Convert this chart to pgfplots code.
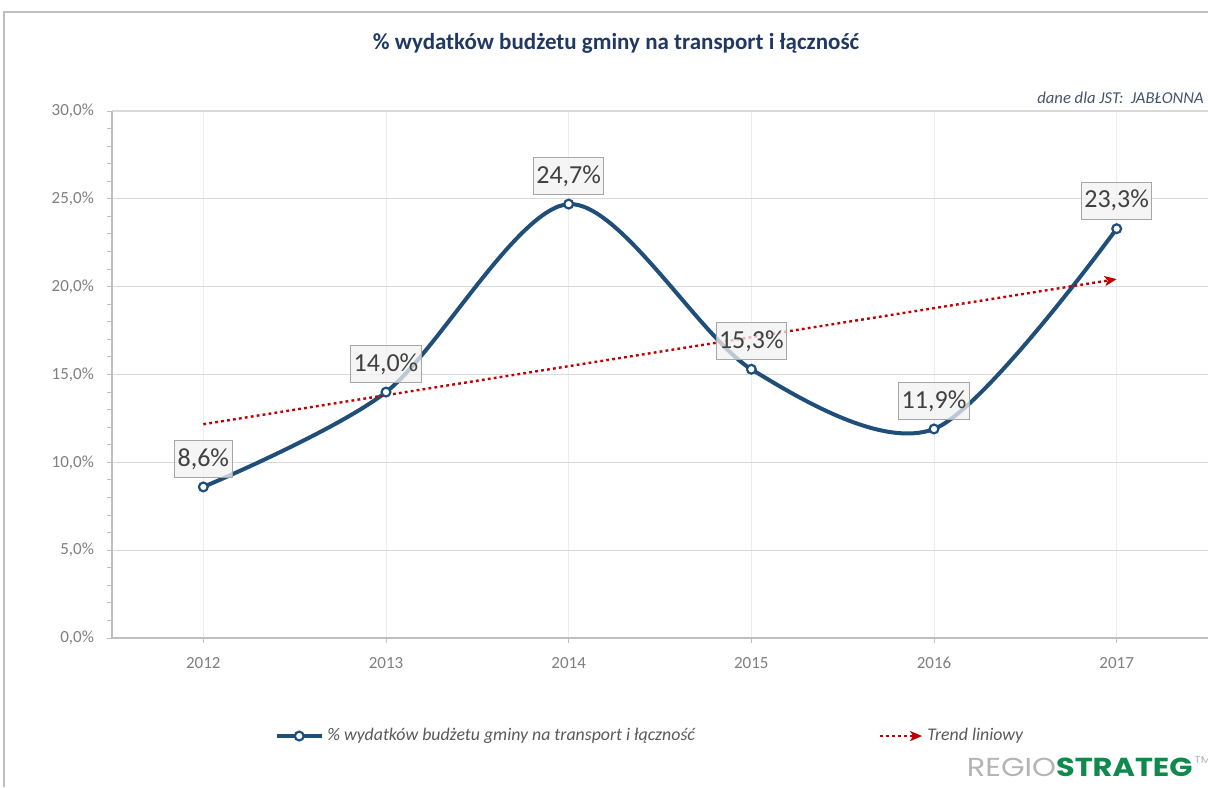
\documentclass[border=0pt]{standalone}
\usepackage{pgfplots}
\pgfplotsset{compat=1.18}
\usepackage{fontspec}
\setmainfont{Carlito}
\newfontfamily\logofont[FakeStretch=1.17]{Poppins}
\usetikzlibrary{arrows.meta}
\definecolor{serie}{HTML}{1F4E79}
\definecolor{trend}{HTML}{C00000}
\definecolor{tytul}{HTML}{203864}
\definecolor{dane}{HTML}{44546A}
\definecolor{osie}{HTML}{BFBFBF}
\definecolor{siatka}{HTML}{D9D9D9}
\definecolor{pion}{HTML}{EDEDED}
\definecolor{etyk}{HTML}{7F7F7F}
\definecolor{logoszary}{HTML}{B4B4B4}
\definecolor{logozielony}{HTML}{0E8A4C}
\pgfplotsset{
  serieleg/.style={legend image code/.code={\draw[mark repeat=2,mark phase=2,##1]
    plot coordinates {(0pt,0pt) (11pt,0pt) (22pt,0pt)};}},
  trendleg/.style={legend image code/.code={\draw[##1] (0pt,0pt) -- (21pt,0pt);}}
}
\begin{document}
\begin{tikzpicture}
\path[use as bounding box] (0pt,0pt) rectangle (604pt,-393.5pt);
\begin{scope}[x=0.5pt,y=-0.5pt]
\draw[color=osie, line width=0.8pt] (4,787) -- (4,12) -- (1208,12);
\node[font=\bfseries\fontsize{11.5}{13}\selectfont, text=tytul] at (616,43)
  {\% wydatków budżetu gminy na transport i łączność};
\node[font=\itshape\fontsize{8.3}{10}\selectfont, text=dane, anchor=east, inner sep=0pt] at (1204,98)
  {dane dla JST:\ \ JABŁONNA};
\node[anchor=base east, inner sep=0pt] at (1193,776)
  {\logofont\fontsize{13}{15}\selectfont\textcolor{logoszary}{REGIO}\textcolor{logozielony}{\bfseries STRATEG}};
\node[anchor=west, inner sep=0pt, text=logoszary, font=\logofont\fontsize{5}{6}\selectfont] at (1194,760) {TM};
\end{scope}
\begin{axis}[at={(56pt,-319pt)}, anchor=south west, scale only axis,
  width=548pt, height=263.5pt,
  xmin=2011.5, xmax=2017.5, ymin=0, ymax=30,
  xtick={2012,2013,2014,2015,2016,2017},
  ytick={0,5,10,15,20,25,30}, minor y tick num=4,
  axis x line*=bottom, axis y line*=left,
  axis line style={color=osie, line width=0.6pt},
  tick align=outside, major tick length=2.5pt, minor tick length=2.5pt,
  tick style={color=osie, line width=0.5pt},
  xmajorgrids, ymajorgrids,
  x grid style={color=pion, line width=0.4pt},
  y grid style={color=siatka, line width=0.6pt},
  /pgf/number format/assume math mode=true,
  tick label style={font=\fontsize{8.5}{10}\selectfont, text=etyk},
  xticklabel style={/pgf/number format/1000 sep=, yshift=-3.5pt},
  yticklabel={\pgfmathprintnumber[fixed,fixed zerofill,precision=1,use comma]{\tick}\%},
  yticklabel style={xshift=-3pt},
  legend style={at={(0.492,-0.186)}, anchor=center, draw=none, fill=none,
    font=\itshape\fontsize{8.9}{10}\selectfont, text=black!65, legend columns=2,
    /tikz/every even column/.append style={column sep=90pt}},
  clip=false]
\addplot[color=serie, line width=2pt, smooth, tension=0.5,
  mark=*, mark size=2.2pt, mark options={fill=white, draw=serie, line width=1.1pt},
  nodes near coords={\pgfmathprintnumber[fixed,fixed zerofill,precision=1,use comma]{\pgfplotspointmeta}\%},
  every node near coord/.append style={font=\fontsize{13}{15}\selectfont, text=black!75,
    fill=black!5, fill opacity=0.75, text opacity=1, draw=black!35, line width=0.5pt,
    anchor=south, yshift=4.5pt, inner xsep=1.5pt, minimum height=18.5pt},
  serieleg]
coordinates {(2012,8.6) (2013,14.0) (2014,24.7) (2015,15.3) (2016,11.9) (2017,23.3)};
\addlegendentry{\% wydatków budżetu gminy na transport i łączność}
\addplot[color=trend, line width=1.2pt, dash pattern=on 1.4pt off 1.6pt,
  -{Stealth[length=6pt,width=5pt,inset=1.5pt]}, trendleg]
coordinates {(2012,12.17) (2017,20.43)};
\addlegendentry{Trend liniowy}
\end{axis}
\end{tikzpicture}
\end{document}
